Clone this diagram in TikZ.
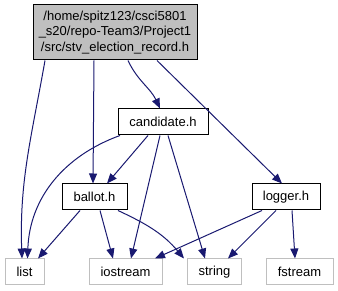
\documentclass[tikz,border=0pt]{standalone}
\usepackage{fontspec}
\setmainfont{Liberation Sans}
\usetikzlibrary{arrows.meta}
\definecolor{edgeblue}{HTML}{191970}
\definecolor{sysgray}{HTML}{BFBFBF}
\tikzset{
  hdr/.style={draw=black, fill=white, line width=1pt, minimum height=26pt, inner sep=0pt,
    font=\fontsize{13}{15.5}\selectfont},
  syshdr/.style={hdr, draw=sysgray},
  dep/.style={edgeblue, line width=1pt, -{Triangle[length=10pt,width=8pt]}},
}

\begin{document}
\begin{tikzpicture}[x=1pt, y=-1pt]
  \useasboundingbox (0,0) rectangle (338,291);

  \node[hdr, fill=sysgray, minimum width=164pt, minimum height=55pt, align=center] (rec) at (115,32.5)
    {/home/spitz123/csci5801\\\_s20/repo-Team3/Project1\\/src/stv\_election\_record.h};
  \node[hdr, minimum width=90pt] (cand) at (163,122) {candidate.h};
  \node[hdr, minimum width=65pt] (ballot) at (94.5,197) {ballot.h};
  \node[hdr, minimum width=68pt] (logger) at (286,197) {logger.h};
  \node[syshdr, minimum width=39pt] (list) at (24.5,272) {list};
  \node[syshdr, minimum width=73pt] (iostream) at (125.5,272) {iostream};
  \node[syshdr, minimum width=54pt] (string) at (214.5,272) {string};
  \node[syshdr, minimum width=67pt] (fstream) at (299.5,272) {fstream};

  \draw[dep] ([xshift=-70]rec.south) to[out=-100,in=92] ([xshift=-2.5]list.north);
  \draw[dep] ([xshift=-21]rec.south) -- ([xshift=-1.5]ballot.north);
  \draw[dep] ([xshift=13]rec.south) to[out=-65,in=115] ([xshift=-3]cand.north);
  \draw[dep] ([xshift=42]rec.south) -- ([xshift=-4]logger.north);

  \draw[dep] ([xshift=-43]cand.south) to[out=-160,in=88] ([xshift=3]list.north);
  \draw[dep] ([xshift=-15]cand.south) -- ([xshift=12.5]ballot.north);
  \draw[dep] ([xshift=-3]cand.south) -- ([xshift=5.5]iostream.north);
  \draw[dep] ([xshift=5]cand.south) -- ([xshift=-9.5]string.north);

  \draw[dep] ([xshift=-14.5]ballot.south) -- ([xshift=13.5]list.north);
  \draw[dep] ([xshift=5.5]ballot.south) -- ([xshift=-12.5]iostream.north);
  \draw[dep] ([xshift=23.5]ballot.south) to[out=-25,in=130] ([xshift=-30.5]string.north);

  \draw[dep] ([xshift=-24]logger.south) -- ([xshift=29.5]iostream.north);
  \draw[dep] ([xshift=-10]logger.south) -- ([xshift=13.5]string.north);
  \draw[dep] ([xshift=6]logger.south) -- ([xshift=-4.5]fstream.north);
\end{tikzpicture}
\end{document}
